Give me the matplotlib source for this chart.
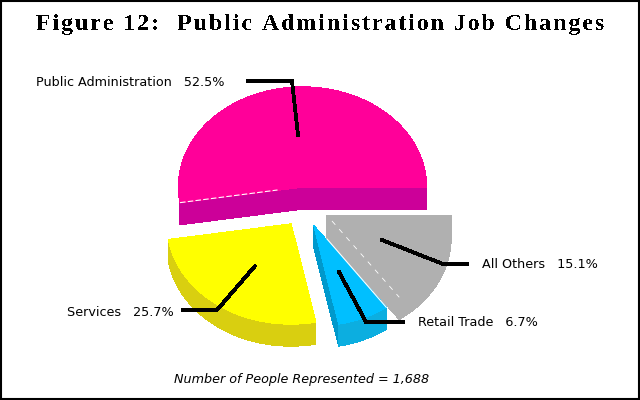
import numpy as np
import matplotlib
matplotlib.use('Agg')
from matplotlib import pyplot as plt
from matplotlib.patches import Polygon, Rectangle

# shares of people, percent
categories = ['Public Administration', 'Services', 'Retail Trade', 'All Others']
shares = [52.5, 25.7, 6.7, 15.1]
title = 'Figure 12:  Public Administration Job Changes'
note = 'Number of People Represented = 1,688'

RX, RY = 124, 100
BLACK = '#000000'


def arc(cx, cy, a0, a1):
    t = np.radians(np.linspace(a0, a1, 80))
    return np.column_stack([cx + RX*np.cos(t), cy - RY*np.sin(t)])


def fill(ax, pts, color, z=2):
    ax.add_patch(Polygon(pts, closed=True, fc=color, ec=color, lw=0.3, antialiased=False, zorder=z))


def slice_3d(ax, cx, cy, a0, a1, depth, top, wall, z=2):
    # outer wall first, the face goes on top of it
    rim = arc(cx, cy, a0, a1)
    fill(ax, np.vstack([rim, rim[::-1] + [0, depth]]), wall, z)
    fill(ax, np.vstack([[cx, cy], rim]), top, z)


plt.rcParams['text.antialiased'] = False
fig = plt.figure(figsize=(6.4, 4), dpi=100)
ax = fig.add_axes([0, 0, 1, 1])
ax.set_xlim(0, 640)
ax.set_ylim(400, 0)
ax.axis('off')
ax.add_patch(Rectangle((1, 1), 638, 398, fc='white', ec=BLACK, lw=1.5, zorder=0))

edges = np.cumsum([0] + shares) * 3.6
a_pub, a_srv, a_ret, a_oth = [(edges[i], edges[i+1]) for i in range(4)]

# Public Administration: wall is on the cut side, below the centre
cx, cy, d = 302.5, 187, 22
rim = arc(cx, cy, *a_pub)
cut = np.array([rim[-1], [cx, cy], rim[0]])
fill(ax, np.vstack([cut, cut[::-1] + [0, d]]), '#CC0099')
fill(ax, np.vstack([[cx, cy], rim]), '#FF0099', 3)
ax.plot([rim[-1][0], cx - 25], [rim[-1][1], cy + 3], color='white', lw=0.8, ls=(0, (5, 2)), zorder=4)

# Services
slice_3d(ax, 291, 224, *a_srv, 22, '#FFFF00', '#D9CF10')

# All Others, face and wall are the same grey
cx, cy, d = 327, 216, 22
rim = arc(cx, cy, *a_oth)
fill(ax, [[cx, cy], rim[0], rim[0] + [0, d], [cx, cy + d]], '#B0B0B0')
slice_3d(ax, cx, cy, *a_oth, d, '#B0B0B0', '#B0B0B0')
ax.plot([cx + 5, rim[0][0]], [cy + 5, rim[0][1]], color='white', lw=0.6, ls=(0, (6, 7)), zorder=4)

# Retail Trade
cx, cy, d = 314, 226, 22
rim = arc(cx, cy, *a_ret)
fill(ax, [[cx, cy], rim[0], rim[0] + [0, d], [cx, cy + d]], '#0099CC', 3)
slice_3d(ax, cx, cy, *a_ret, d, '#00BFFF', '#0CAEE0', 3)
ax.plot([cx + 13, rim[-1][0]], [cy + 13, rim[-1][1]], color='white', lw=0.8, zorder=4)

# leader lines
leaders = [
    ([248, 292, 298], [81, 81, 135]),
    ([183, 217, 255], [310, 310, 266]),
    ([403, 366, 339], [322, 322, 272]),
    ([467, 443, 382], [264, 264, 240]),
]
for xs, ys in leaders:
    ax.plot(xs, ys, color=BLACK, lw=2, solid_joinstyle='miter', antialiased=False, zorder=6)

label_pos = [(36, 82), (67, 312), (418, 323), (482, 264)]
for name, share, (x, y) in zip(categories, shares, label_pos):
    ax.text(x, y, f'{name}   {share}%', fontsize=9.2, family='DejaVu Sans', va='center', ha='left',
            color=BLACK, antialiased=True)

spaced = '\u200a'.join(title)
ax.text(320, 24.5, spaced, fontsize=17.1, family=['Liberation Serif', 'DejaVu Serif'], weight='bold',
        ha='center', va='center', color=BLACK)
ax.text(302, 380, note, fontsize=9.2, family='DejaVu Sans', style='italic', ha='center', va='center',
        color=BLACK, antialiased=True)

fig.savefig('out.png', dpi=100)
